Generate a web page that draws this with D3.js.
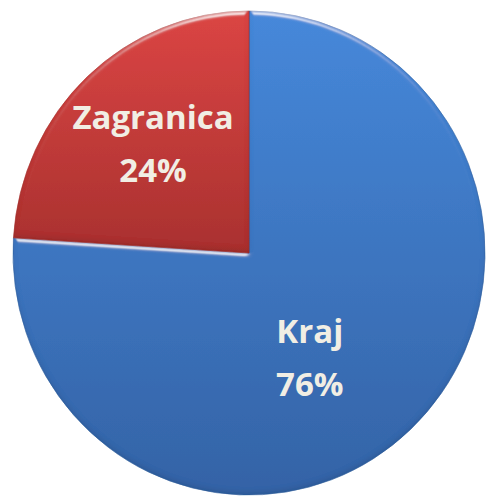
<!DOCTYPE html>
<html>
<head>
<meta charset="utf-8">
<title>pie</title>
<style>
  body { margin: 0; background: #fff; }
  svg { display: block; }
  .lbl { font-family: "Open Sans", Lato, sans-serif; font-weight: bold; fill: #f1eee4; }
</style>
</head>
<body>
<script src="https://cdn.jsdelivr.net/npm/d3@7"></script>
<div id="chart"></div>
<script>
var categories = ['Kraj', 'Zagranica'];
var values = [76, 24];
var labels = ['76%', '24%'];
var colorsTop = ['#4688da', '#db4544'];
var colorsBottom = ['#3463a6', '#a9312f'];

var w = 487, h = 497;
var cx = 249, cy = 253, rx = 236, ry = 242;

var svg = d3.select('#chart').append('svg')
    .attr('width', w)
    .attr('height', h);

var defs = svg.append('defs');
categories.forEach(function(c, i) {
    var g = defs.append('linearGradient')
        .attr('id', 'grad' + i)
        .attr('x1', 0).attr('y1', 0).attr('x2', 0).attr('y2', 1);
    g.append('stop').attr('offset', '0%').attr('stop-color', colorsTop[i]);
    g.append('stop').attr('offset', '100%').attr('stop-color', colorsBottom[i]);
});

// soft bevel: highlight on upper edges, shade on lower ones
var f = defs.append('filter').attr('id', 'bevel')
    .attr('x', '-5%').attr('y', '-5%').attr('width', '110%').attr('height', '110%');
f.append('feGaussianBlur').attr('in', 'SourceAlpha').attr('stdDeviation', 2.5).attr('result', 'blur');
f.append('feSpecularLighting').attr('in', 'blur').attr('surfaceScale', 3)
    .attr('specularConstant', 0.7).attr('specularExponent', 35)
    .attr('lighting-color', '#ffffff').attr('result', 'spec')
    .append('feDistantLight').attr('azimuth', 270).attr('elevation', 30);
f.append('feComposite').attr('in', 'spec').attr('in2', 'SourceAlpha')
    .attr('operator', 'in').attr('result', 'specIn');
f.append('feOffset').attr('in', 'blur').attr('dx', 0).attr('dy', -3).attr('result', 'off');
f.append('feComposite').attr('in', 'SourceAlpha').attr('in2', 'off')
    .attr('operator', 'out').attr('result', 'edge');
f.append('feFlood').attr('flood-color', '#000').attr('flood-opacity', 0.2);
f.append('feComposite').attr('in2', 'edge').attr('operator', 'in').attr('result', 'shade');
var m = f.append('feMerge');
m.append('feMergeNode').attr('in', 'SourceGraphic');
m.append('feMergeNode').attr('in', 'shade');
m.append('feMergeNode').attr('in', 'specIn');

var pie = d3.pie().sort(null).value(function(d) { return d; });
var arcs = pie(values);

var arc = d3.arc().innerRadius(0).outerRadius(rx);

var g = svg.append('g')
    .attr('transform', 'translate(' + cx + ',' + cy + ')');

g.selectAll('path.slice')
    .data(arcs)
    .enter()
    .append('path')
    .attr('class', 'slice')
    .attr('transform', 'scale(1,' + (ry / rx) + ')')
    .attr('d', arc)
    .attr('fill', function(d, i) { return 'url(#grad' + i + ')'; })
    .attr('stroke', function(d, i) { return colorsBottom[i]; })
    .attr('stroke-width', 0.6)
    .attr('filter', 'url(#bevel)');

// label positions: centroid direction, nudged to match Excel placement
var labelR = [0.5, 0.6];
var labelShift = [[-20, 16], [1, -4]];
var lineGap = 53;

arcs.forEach(function(d, i) {
    var a = (d.startAngle + d.endAngle) / 2;
    var x = Math.sin(a) * rx * labelR[i] + labelShift[i][0];
    var y = -Math.cos(a) * ry * labelR[i] + labelShift[i][1];
    var t = g.append('text')
        .attr('class', 'lbl')
        .attr('text-anchor', 'middle')
        .attr('font-size', 33)
        .attr('x', x)
        .attr('y', y);
    t.append('tspan').attr('x', x).attr('dy', -14.5).text(categories[i]);
    t.append('tspan').attr('x', x).attr('dy', lineGap).text(labels[i]);
});
</script>
</body>
</html>
